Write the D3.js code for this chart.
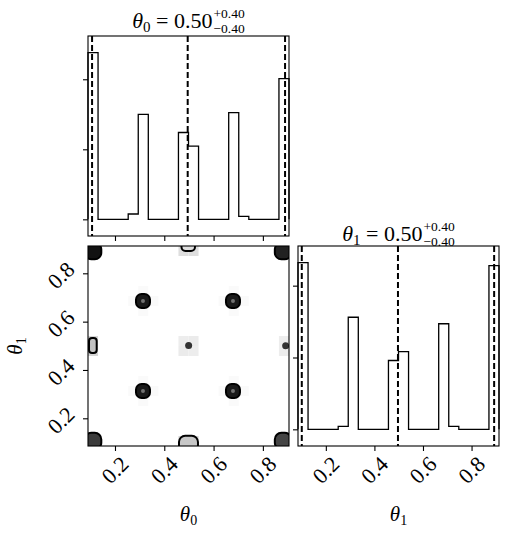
<!DOCTYPE html>
<html>
<head>
<meta charset="utf-8">
<script src="https://cdn.jsdelivr.net/npm/d3@7"></script>
<style>
  body { margin: 0; background: #fff; }
  svg text { font-family: "Liberation Serif", "DejaVu Serif", serif; fill: #000; }
</style>
</head>
<body>
<div id="corner"></div>
<script>
// ranges of the two parameters (data units)
const theta0Range = [0.0905, 0.906];
const theta1Range = [0.0854, 0.913];

// 1D histograms, 20 bins each
const theta0Counts = [2380, 0, 0, 0, 76, 1500, 0, 0, 0, 1240, 1045, 0, 0, 0, 1525, 43, 0, 0, 0, 2010];
const theta1Counts = [2320, 0, 0, 0, 42, 1560, 0, 0, 0, 958, 1083, 0, 0, 0, 1470, 42, 0, 0, 0, 2280];

// quantile lines (dashed)
const theta0Quantiles = [0.107, 0.495, 0.890];
const theta1Quantiles = [0.101, 0.497, 0.893];

// titles
const titleSub = ["0", "1"];
const titleMedian = ["0.50", "0.50"];
const titlePlus = ["+0.40", "+0.40"];
const titleMinus = ["\u22120.40", "\u22120.40"];

const axisTicks = [0.2, 0.4, 0.6, 0.8];
const axisTickLabels = ["0.2", "0.4", "0.6", "0.8"];
const histTicks = [0, 1000, 2000];

// 2D histogram cells with some density (bin column, bin row, darkness)
const cellCol = [9, 10, 9, 10, 0, 0, 19, 19, 9, 10, 9, 10,
                 5, 4, 6, 5, 5, 5, 4, 6, 5, 5, 14, 13, 15, 14, 14, 14, 13, 15, 14, 14];
const cellRow = [9, 9, 10, 10, 9, 10, 9, 10, 19, 19, 0, 0,
                 5, 5, 5, 4, 6, 14, 14, 14, 13, 15, 5, 5, 5, 4, 6, 14, 14, 14, 13, 15];
const cellDensity = [0.08, 0.07, 0.07, 0.08, 0.17, 0.17, 0.07, 0.07, 0.13, 0.13, 0.17, 0.17,
                     0.04, 0.02, 0.02, 0.02, 0.02, 0.04, 0.02, 0.02, 0.02, 0.02,
                     0.04, 0.02, 0.02, 0.02, 0.02, 0.04, 0.02, 0.02, 0.02, 0.02];

// contour blobs (centre, half extent in data units, darkness of fill)
const blobX = [0.111, 0.111, 0.882, 0.882, 0.3136, 0.3136, 0.6787, 0.6787, 0.1102, 0.4972, 0.4982];
const blobY = [0.106, 0.892, 0.106, 0.892, 0.3130, 0.6853, 0.3130, 0.6853, 0.5012, 0.9129, 0.0957];
const blobHalfX = [0.0335, 0.0335, 0.0335, 0.0335, 0.0284, 0.0284, 0.0284, 0.0284, 0.0156, 0.0274, 0.0385];
const blobHalfY = [0.034, 0.034, 0.034, 0.034, 0.029, 0.029, 0.029, 0.029, 0.031, 0.0207, 0.032];
const blobDensity = [0.77, 0.93, 0.73, 0.87, 0.9, 0.9, 0.9, 0.9, 0.24, 0.12, 0.22];

// isolated sample peaks (dots) and blob cores
const dotX = [0.4988, 0.8925, 0.3136, 0.3136, 0.6787, 0.6787];
const dotY = [0.5011, 0.5000, 0.3130, 0.6853, 0.3130, 0.6853];
const dotDensity = [0.8, 0.8, 0.55, 0.55, 0.55, 0.55];

const W = 201, H = 200;
const col0 = 88, col1 = 298, row0 = 36, row1 = 246;

const svg = d3.select("#corner").append("svg")
  .attr("width", 508).attr("height", 534);

const x0 = d3.scaleLinear().domain(theta0Range).range([0, W]);
const x1 = d3.scaleLinear().domain(theta1Range).range([0, W]);
const y1 = d3.scaleLinear().domain(theta1Range).range([H, 0]);
const shade = d3.scaleLinear().domain([0, 1]).range(["#ffffff", "#000000"]);

function binEdges(range) {
  return d3.range(21).map(i => range[0] + (range[1] - range[0]) * i / 20);
}

function drawHist(g, xs, counts, quants) {
  const ymax = d3.max(counts);
  const ys = d3.scaleLinear().domain([-0.1 * ymax, 1.1 * ymax]).range([H, 0]);
  const edges = binEdges(xs.domain());
  const pts = [[edges[0], 0]];
  counts.forEach((c, i) => { pts.push([edges[i], c], [edges[i + 1], c]); });
  pts.push([edges[20], 0]);

  g.append("path")
    .attr("d", d3.line().x(d => xs(d[0])).y(d => ys(d[1]))(pts))
    .attr("fill", "none").attr("stroke", "#000").attr("stroke-width", 1.3);

  g.selectAll(".q").data(quants).enter().append("line")
    .attr("x1", d => xs(d)).attr("x2", d => xs(d))
    .attr("y1", 0).attr("y2", H)
    .attr("stroke", "#000").attr("stroke-width", 2)
    .attr("stroke-dasharray", "6,3");

  const ya = g.append("g").call(d3.axisLeft(ys).tickValues(histTicks).tickFormat("").tickSize(5).tickSizeOuter(0));
  ya.select(".domain").remove();
  ya.selectAll("line").attr("stroke-width", 1.1);
  return ys;
}

function bottomAxis(g, xs, withLabels) {
  const xa = g.append("g").attr("transform", "translate(0," + H + ")")
    .call(d3.axisBottom(xs).tickValues(axisTicks).tickFormat("").tickSize(5).tickSizeOuter(0));
  xa.select(".domain").remove();
  xa.selectAll("line").attr("stroke-width", 1.1);
  if (withLabels) {
    g.selectAll(".xl").data(axisTicks).enter().append("text")
      .attr("transform", (d, i) => "translate(" + xs(d) + "," + (H + 24) + ") rotate(-45)")
      .attr("text-anchor", "middle").attr("dominant-baseline", "central")
      .style("font-size", "22px")
      .text((d, i) => axisTickLabels[i]);
  }
}

function frame(g) {
  g.append("rect").attr("width", W).attr("height", H)
    .attr("fill", "none").attr("stroke", "#000").attr("stroke-width", 1.1);
}

function title(cx, baseY, i) {
  const t = svg.append("g");
  const main = t.append("text").attr("y", baseY).style("font-size", "22px");
  main.append("tspan").text("\u03b8").style("font-style", "italic");
  main.append("tspan").text(titleSub[i]).attr("dy", 4).style("font-size", "15px");
  main.append("tspan").text(" = " + titleMedian[i]).attr("dy", -4);
  const w = main.node().getComputedTextLength();
  const sp = t.append("text").attr("x", w + 1).attr("y", baseY - 10).style("font-size", "13.5px").text(titlePlus[i]);
  const sm = t.append("text").attr("x", w + 1).attr("y", baseY + 5).style("font-size", "13.5px").text(titleMinus[i]);
  const tw = w + 1 + Math.max(sp.node().getComputedTextLength(), sm.node().getComputedTextLength());
  t.attr("transform", "translate(" + (cx - tw / 2) + ",0)");
}

// top-left: theta0 histogram
const gTop = svg.append("g").attr("transform", "translate(" + col0 + "," + row0 + ")");
drawHist(gTop, x0, theta0Counts, theta0Quantiles);
bottomAxis(gTop, x0, false);
frame(gTop);

// bottom-right: theta1 histogram
const gRight = svg.append("g").attr("transform", "translate(" + col1 + "," + row1 + ")");
drawHist(gRight, x1, theta1Counts, theta1Quantiles);
bottomAxis(gRight, x1, true);
frame(gRight);

// bottom-left: 2D density
const g2 = svg.append("g").attr("transform", "translate(" + col0 + "," + row1 + ")");
g2.append("clipPath").attr("id", "clip2d").append("rect").attr("width", W).attr("height", H);
const inner = g2.append("g").attr("clip-path", "url(#clip2d)");
const e0 = binEdges(theta0Range), e1 = binEdges(theta1Range);

inner.selectAll(".cell").data(cellCol).enter().append("rect")
  .attr("x", (d, i) => x0(e0[d]))
  .attr("width", (d, i) => x0(e0[d + 1]) - x0(e0[d]))
  .attr("y", (d, i) => y1(e1[cellRow[i] + 1]))
  .attr("height", (d, i) => y1(e1[cellRow[i]]) - y1(e1[cellRow[i] + 1]))
  .attr("fill", (d, i) => shade(cellDensity[i]));

inner.selectAll(".blob").data(blobX).enter().append("rect")
  .attr("x", (d, i) => x0(d - blobHalfX[i]))
  .attr("y", (d, i) => y1(blobY[i] + blobHalfY[i]))
  .attr("width", (d, i) => x0(d + blobHalfX[i]) - x0(d - blobHalfX[i]))
  .attr("height", (d, i) => y1(blobY[i] - blobHalfY[i]) - y1(blobY[i] + blobHalfY[i]))
  .attr("rx", (d, i) => 0.4 * Math.min(x0(d + blobHalfX[i]) - x0(d - blobHalfX[i]), y1(blobY[i] - blobHalfY[i]) - y1(blobY[i] + blobHalfY[i])))
  .attr("fill", (d, i) => shade(blobDensity[i]))
  .attr("stroke", "#000").attr("stroke-width", 2);

inner.selectAll(".dot").data(dotX).enter().append("circle")
  .attr("cx", d => x0(d))
  .attr("cy", (d, i) => y1(dotY[i]))
  .attr("r", (d, i) => i < 2 ? 3.5 : 2)
  .attr("fill", (d, i) => shade(dotDensity[i]));

const ya2 = g2.append("g").call(d3.axisLeft(y1).tickValues(axisTicks).tickFormat("").tickSize(5).tickSizeOuter(0));
ya2.select(".domain").remove();
ya2.selectAll("line").attr("stroke-width", 1.1);
g2.selectAll(".yl").data(axisTicks).enter().append("text")
  .attr("transform", d => "translate(-27," + (y1(d) + 2) + ") rotate(-45)")
  .attr("text-anchor", "middle").attr("dominant-baseline", "central")
  .style("font-size", "22px")
  .text((d, i) => axisTickLabels[i]);
bottomAxis(g2, x0, true);
frame(g2);

// titles and axis labels
title(col0 + W / 2, 27.5, 0);
title(col1 + W / 2, 240.5, 1);

function axisLabel(x, y, sub, rot) {
  const t = svg.append("text")
    .attr("transform", "translate(" + x + "," + y + ")" + (rot ? " rotate(-90)" : ""))
    .attr("text-anchor", "middle").style("font-size", "21px");
  t.append("tspan").text("\u03b8").style("font-style", "italic");
  t.append("tspan").text(sub).attr("dy", 4).style("font-size", "14px");
}
axisLabel(col0 + W / 2, 521, "0", false);
axisLabel(col1 + W / 2, 521, "1", false);
axisLabel(22, row1 + H / 2, "1", true);
</script>
</body>
</html>
